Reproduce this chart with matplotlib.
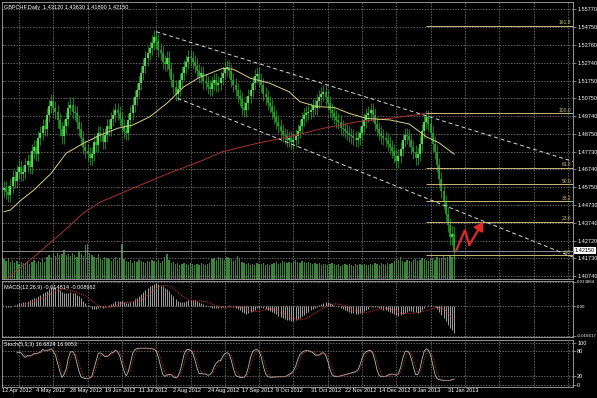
import matplotlib
matplotlib.use("Agg")
import matplotlib.pyplot as plt
import numpy as np
import pandas as pd

plt.rcParams['font.family'] = ['Liberation Sans', 'DejaVu Sans']

title = "GBPCHF,Daily  1.43120 1.43630 1.41890 1.42150"
macd_title = "MACD(12,26,9) -0.014814 -0.008962"
stoch_title = "Stoch(5,3,3) 16.6824 16.9053"

# daily closes, 12 Apr 2012 .. early Feb 2013
closes = [
    1.4570, 1.4545, 1.4530, 1.4580, 1.4630, 1.4610, 1.4660, 1.4685, 1.4650, 1.4660,
    1.4700, 1.4720, 1.4690, 1.4775, 1.4800, 1.4760, 1.4850, 1.4880, 1.4920, 1.4900,
    1.4980, 1.5030, 1.5060, 1.5020, 1.5000, 1.4950, 1.4900, 1.4860, 1.4920, 1.4960,
    1.5020, 1.5040, 1.5000, 1.4990, 1.4940, 1.4900, 1.4850, 1.4800, 1.4780, 1.4760,
    1.4740, 1.4760, 1.4830, 1.4810, 1.4880, 1.4870, 1.4830, 1.4870, 1.4920, 1.4900,
    1.4960, 1.4980, 1.5010, 1.4990, 1.4960, 1.4920, 1.4890, 1.4880, 1.4950, 1.4990,
    1.5040, 1.5080, 1.5120, 1.5160, 1.5220, 1.5260, 1.5300, 1.5330, 1.5360, 1.5390,
    1.5420, 1.5400, 1.5350, 1.5330, 1.5280, 1.5270, 1.5300, 1.5240, 1.5180, 1.5140,
    1.5100, 1.5130, 1.5180, 1.5220, 1.5250, 1.5280, 1.5310, 1.5300, 1.5280, 1.5260,
    1.5230, 1.5200, 1.5220, 1.5170, 1.5160, 1.5140, 1.5130, 1.5160, 1.5180, 1.5150,
    1.5160, 1.5190, 1.5220, 1.5240, 1.5250, 1.5230, 1.5180, 1.5150, 1.5120, 1.5090,
    1.5070, 1.5020, 1.5010, 1.5050, 1.5090, 1.5120, 1.5160, 1.5200, 1.5210, 1.5180,
    1.5150, 1.5100, 1.5080, 1.5050, 1.5030, 1.5000, 1.4970, 1.4940, 1.4920, 1.4890,
    1.4870, 1.4860, 1.4840, 1.4850, 1.4830, 1.4840, 1.4860, 1.4890, 1.4920, 1.4960,
    1.4980, 1.4990, 1.5000, 1.5010, 1.5030, 1.5020, 1.5060, 1.5080, 1.5100, 1.5110,
    1.5080, 1.5050, 1.5010, 1.4990, 1.4970, 1.4950, 1.4940, 1.4910, 1.4900, 1.4890,
    1.4880, 1.4870, 1.4860, 1.4850, 1.4840, 1.4850, 1.4880, 1.4920, 1.4950, 1.4980,
    1.4990, 1.5010, 1.4980, 1.4930, 1.4900, 1.4880, 1.4860, 1.4850, 1.4840, 1.4820,
    1.4800, 1.4780, 1.4750, 1.4720, 1.4750, 1.4790, 1.4840, 1.4870, 1.4860, 1.4840,
    1.4800, 1.4770, 1.4740, 1.4760, 1.4820, 1.4890, 1.4940, 1.4970, 1.4930, 1.4880,
    1.4820, 1.4770, 1.4700, 1.4620, 1.4550, 1.4490, 1.4420, 1.4360, 1.4290, 1.4312,
    1.4215,
]
first_open = 1.4560

# tick volume (thousands)
volumes = [
    20, 18, 21, 17, 19, 16, 18, 15, 17, 16,
    16, 18, 15, 17, 19, 16, 18, 17, 20, 17,
    22, 24, 21, 25, 23, 26, 24, 25, 29, 24,
    25, 23, 26, 24, 22, 27, 25, 23, 34, 35,
    26, 24, 22, 21, 25, 20, 19, 22, 21, 20,
    18, 20, 22, 19, 21, 35, 20, 18, 17, 19,
    16, 18, 17, 19, 18, 17, 16, 18, 17, 19,
    18, 17, 19, 16, 18, 22, 25, 19, 16, 17,
    15, 16, 14, 15, 16, 15, 14, 16, 15, 14,
    15, 14, 16, 15, 14, 15, 16, 20, 21, 19,
    22, 21, 20, 19, 22, 21, 20, 18, 19, 23,
    21, 17, 16, 15, 16, 14, 15, 14, 16, 15,
    15, 16, 14, 15, 14, 15, 16, 17, 15, 16,
    18, 17, 16, 17, 16, 18, 19, 17, 16, 18,
    17, 16, 17, 16, 15, 16, 15, 16, 14, 15,
    15, 14, 15, 16, 15, 14, 15, 13, 14, 15,
    14, 15, 14, 13, 15, 14, 15, 14, 15, 14,
    14, 15, 14, 16, 15, 14, 16, 15, 14, 16,
    15, 16, 18, 20, 19, 22, 18, 17, 19, 18,
    17, 19, 20, 18, 19, 21, 20, 19, 18, 20,
    21, 19, 22, 20, 21, 23, 21, 22, 24, 22, 23,
]

# moving averages as seen on the chart (bar, price)
ma_fast_bars = [0, 3, 8, 14, 22, 29, 37, 45, 53, 60, 68, 76, 84, 91, 102, 107,
                115, 124, 133, 138, 146, 154, 161, 169, 180, 189, 197, 203, 210]
ma_fast = [1.4435, 1.4445, 1.4501, 1.4558, 1.4652, 1.4765, 1.4821, 1.4868, 1.4906,
           1.4924, 1.4971, 1.5047, 1.5141, 1.5192, 1.5244, 1.5239, 1.5188, 1.5160,
           1.5112, 1.5056, 1.5028, 1.5024, 1.4990, 1.4962, 1.4953, 1.4930, 1.4858,
           1.4823, 1.4760]
ma_slow_bars = [0, 1, 14, 23, 29, 37, 45, 60, 76, 91, 102, 118, 133, 149, 165, 180, 197, 210]
ma_slow = [1.4040, 1.4055, 1.4180, 1.4276, 1.4338, 1.4428, 1.4490, 1.4567, 1.4648,
           1.4717, 1.4774, 1.4821, 1.4858, 1.4906, 1.4943, 1.4962, 1.4990, 1.4990]

price_ticks = [1.55770, 1.54750, 1.53760, 1.52740, 1.51750, 1.50750, 1.49740, 1.48750,
               1.47730, 1.46740, 1.45750, 1.44730, 1.43740, 1.42720, 1.41730, 1.40740]
bid = 1.4215

date_labels = ["12 Apr 2012", "4 May 2012", "28 May 2012", "19 Jun 2012", "11 Jul 2012",
               "2 Aug 2012", "24 Aug 2012", "17 Sep 2012", "9 Oct 2012", "31 Oct 2012",
               "22 Nov 2012", "14 Dec 2012", "9 Jan 2013", "31 Jan 2013"]
date_label_bars = [-1, 15, 31, 47, 63, 79, 95, 111, 127, 143, 159, 175, 191, 207]
grid_bars = [7, 23, 39, 55, 71, 87, 103, 119, 135, 151, 167, 183, 199, 215, 231, 247, 263]

fib_ratios = [0.0, 23.6, 38.2, 50.0, 61.8, 100.0, 161.8]
fib_low, fib_high = 1.4189, 1.4990
fib_start_bar = 197

upper_channel = ([71, 196], [1.5451, 1.4980])
lower_channel = ([81, 223], [1.5075, 1.4385])
arrow_bars = [211, 215, 217, 223.5]
arrow_prices = [1.4219, 1.4332, 1.4247, 1.4379]

macd_ticks = [0.013864, 0.0, -0.016617]
macd_ticklabels = ["0.013864", "0.00", "-0.016617"]
stoch_ticks = [100, 80, 20, 0]

# ---------------------------------------------------------------
W, H = 597, 398
fig = plt.figure(figsize=(W / 100, H / 100), dpi=100, facecolor='black')


def px_rect(x0, y0, x1, y1):
    return [x0 / W, 1 - y1 / H, (x1 - x0) / W, (y1 - y0) / H]


ax = fig.add_axes(px_rect(2, 2, 573, 279))
vax = ax.twinx()
ax_macd = fig.add_axes(px_rect(2, 281, 573, 337), sharex=ax)
ax_st = fig.add_axes(px_rect(2, 339.5, 573, 386.5), sharex=ax)

grid_col = '#8a8a8a'
frame_col = '#a8a8a8'
txt = dict(color='white', fontsize=4)


def style(a, ticks, labels, size=4):
    a.set_facecolor('black')
    for s in a.spines.values():
        s.set_color(frame_col)
        s.set_linewidth(0.6)
    a.yaxis.tick_right()
    a.set_yticks(ticks)
    a.set_yticklabels(labels)
    a.set_xticks(grid_bars)
    a.tick_params(axis='y', colors=frame_col, labelcolor='white', labelsize=size,
                  length=2, width=0.5, pad=1)
    a.tick_params(axis='x', bottom=False, labelbottom=False)
    a.grid(True, color=grid_col, ls=(0, (2, 2)), lw=0.5)


n = len(closes)
bars = np.arange(n)
close = np.array(closes)
opens = np.concatenate([[first_open], close[:-1]])
wick = 0.0040
highs = np.maximum(opens, close) + wick
lows = np.minimum(opens, close) - wick

# volumes behind the price
vax.bar(bars, volumes, width=0.6, color='#3a843a', linewidth=0)
vax.set_ylim(0, 277)
vax.axis('off')
ax.set_zorder(vax.get_zorder() + 1)

style(ax, price_ticks, [f"{p:.5f}" for p in price_ticks])
ax.patch.set_visible(False)
ax.set_xlim(-0.93, 265.4)
ax.set_ylim(1.40554, 1.56186)

# candles
up = close >= opens
ax.vlines(bars, lows, highs, color='#22c822', lw=0.45)
ax.vlines(bars[up], opens[up], close[up], color='#66ff66', lw=1.1)
ax.vlines(bars[~up], close[~up], opens[~up], color='#28b428', lw=1.1)

# moving averages
ax.plot(ma_slow_bars, ma_slow, color='#a8342c', lw=0.7)
ax.plot(ma_fast_bars, ma_fast, color='#d8d088', lw=0.7)

# bid line
ax.axhline(bid, color='#a0a0a0', lw=0.6)
ax.text(1.003, bid, f"{bid:.5f}", transform=ax.get_yaxis_transform(), color='black',
        fontsize=4, va='center', ha='left', clip_on=False,
        bbox=dict(boxstyle='square,pad=0.15', fc='white', ec='none'))

# fibonacci retracement
fib_col = '#c8b878'
x_right = ax.get_xlim()[1]
for r in fib_ratios:
    lvl = fib_low + r / 100 * (fib_high - fib_low)
    ax.hlines(lvl, fib_start_bar, x_right, color=fib_col, lw=0.7)
    ax.text(x_right - 0.8, lvl + 0.0003, f"{r:.1f}", color=fib_col, fontsize=3.6,
            ha='right', va='bottom')

# channel rays
for (xs, ys) in (upper_channel, lower_channel):
    slope = (ys[1] - ys[0]) / (xs[1] - xs[0])
    ax.plot([xs[0], x_right], [ys[0], ys[0] + slope * (x_right - xs[0])],
            color='#d8d8d8', lw=0.7, ls=(0, (4, 3)))

# projected move
ax.plot(arrow_bars[:-1], arrow_prices[:-1], color='#e02828', lw=1.6,
        solid_joinstyle='miter')
ax.annotate('', xy=(arrow_bars[-1], arrow_prices[-1]),
            xytext=(arrow_bars[-2], arrow_prices[-2]),
            arrowprops=dict(arrowstyle='-|>,head_length=0.5,head_width=0.3',
                            color='#e02828', lw=1.6, shrinkA=0, shrinkB=0))

ax.text(0.004, 0.988, title, transform=ax.transAxes, va='top', ha='left', **txt)

# MACD
c = pd.Series(close)
macd = c.ewm(span=12, adjust=False).mean() - c.ewm(span=26, adjust=False).mean()
signal = macd.rolling(9).mean()
style(ax_macd, macd_ticks, macd_ticklabels, size=3.2)
ax_macd.set_ylim(-0.01718, 0.01426)
ax_macd.vlines(bars, 0, macd, color='#c8c8c8', lw=0.55)
ax_macd.plot(bars, signal, color='#d03030', lw=0.7, ls=(0, (1, 1)))
ax_macd.text(0.004, 0.93, macd_title, transform=ax_macd.transAxes, va='top', **txt)

# Stochastic
hi = pd.Series(highs)
lo = pd.Series(lows)
ll = lo.rolling(5).min()
hh = hi.rolling(5).max()
k_line = 100 * (c - ll).rolling(3).sum() / (hh - ll).rolling(3).sum()
d_line = k_line.rolling(3).mean()
style(ax_st, stoch_ticks, [str(v) for v in stoch_ticks])
ax_st.set_ylim(-4.7, 107.6)
ax_st.plot(bars, k_line, color='#a8c4b8', lw=0.6)
ax_st.plot(bars, d_line, color='#d03030', lw=0.6, ls=(0, (1, 1)))
ax_st.text(0.004, 0.95, stoch_title, transform=ax_st.transAxes, va='top', **txt)

for b, lab in zip(date_label_bars, date_labels):
    ax_st.text(b, -0.09, lab, transform=ax_st.get_xaxis_transform(), ha='left',
               va='center', clip_on=False, **txt)

fig.savefig('out.png', dpi=100, facecolor='black')
